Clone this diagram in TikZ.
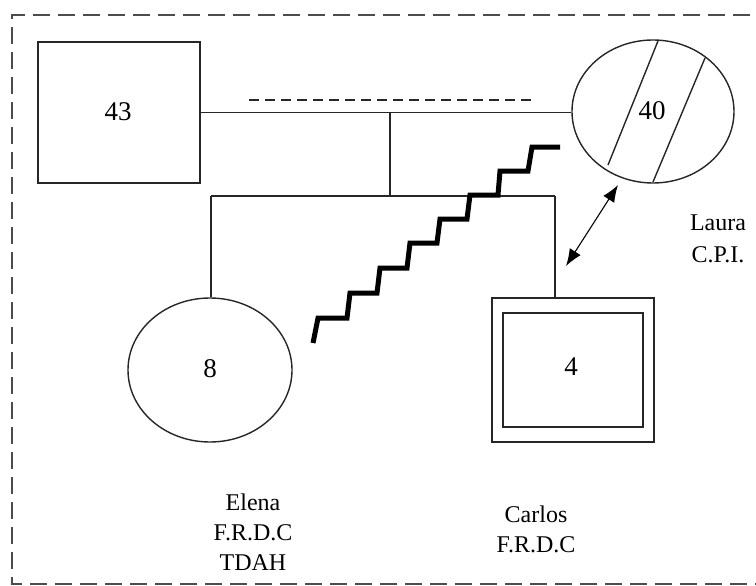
\documentclass[tikz,border=0pt]{standalone}
\usepackage{fontspec}
\setmainfont{Liberation Serif}
\usetikzlibrary{shapes.geometric,arrows.meta}
\begin{document}
\begin{tikzpicture}[x=1pt,y=-1pt,
  every node/.style={font=\fontsize{24}{30}\selectfont},
  num/.style={font=\fontsize{27}{30}\selectfont},
  person/.style={draw,line width=1.4pt,inner sep=0pt,black!85},
  conn/.style={line width=1.4pt,black!85},
  border/.style={line width=2.6pt,black!70,dash pattern=on 17pt off 8pt},
  lbl/.style={align=center,inner sep=0pt},
  zig/.style={line width=5pt,line join=miter,line cap=butt}]
\useasboundingbox (0,0) rectangle (756,586);
% outer dashed frame
\draw[border] (775,15) -- (12,15) -- (12,584) -- (775,584);
% persons
\node[person,rectangle,minimum width=162pt,minimum height=141pt] (father) at (119,112.5) {};
\node[num] (fatherage) at (118,112) {43};
\node[person,ellipse,minimum width=162pt,minimum height=143pt] (mother) at (653,111.5) {};
\node[num] (motherage) at (652,111) {40};
\node[person,ellipse,minimum width=164pt,minimum height=144pt] (elena) at (210,370) {};
\node[num] (elenaage) at (210,369) {8};
\node[person,rectangle,minimum width=162pt,minimum height=144pt] (carlos) at (573,370) {};
\node[person,rectangle,minimum width=140pt,minimum height=114pt] (carlosin) at (573,370) {};
\node[num] (four) at (571,367) {4};
% hatch lines in mother
\draw[conn] (658,41) -- (608,165);
\draw[conn] (705,58) -- (653,182);
% marriage
\draw[conn] (father.east) -- (father.east -| mother.west);
\draw[line width=1.6pt,black!85,dash pattern=on 10pt off 6pt] (249,100) -- (537,100);
\coordinate (mid) at (390,113);
\coordinate (sib) at (390,196);
\coordinate (sibL) at (211,196);
\coordinate (sibR) at (555,196);
\draw[conn] (mid) -- (sib);
\draw[conn] (sibL) -- (sibR);
\draw[conn] (sibL) -- (sibL |- elena.north);
\draw[conn] (sibR) -- (sibR |- carlos.north);
% conflict zigzag
\draw[zig] (313,343) -- (318,318) -- (347,318) -- (350,293) -- (377,293) -- (380,268) -- (407,268) -- (410,243) -- (437,243) -- (440,219) -- (467,219) -- (470,195) -- (498,195) -- (500,171) -- (528,171) -- (532,147) -- (560,147);
% close relationship arrow
\coordinate (a1) at (618,185);
\coordinate (a2) at (566,266);
\draw[line width=1.1pt,{Latex[length=17pt,width=13pt]}-{Latex[length=17pt,width=13pt]}] (a1) -- (a2);
% labels
\node[lbl] (elenalbl) at (253,532) {Elena\\F.R.D.C\\TDAH};
\node[lbl] (carloslbl) at (536,529) {Carlos\\F.R.D.C};
\node[lbl,font=\fontsize{24}{32}\selectfont] (lauralbl) at (718,239) {Laura\\C.P.I.};
\end{tikzpicture}
\end{document}
